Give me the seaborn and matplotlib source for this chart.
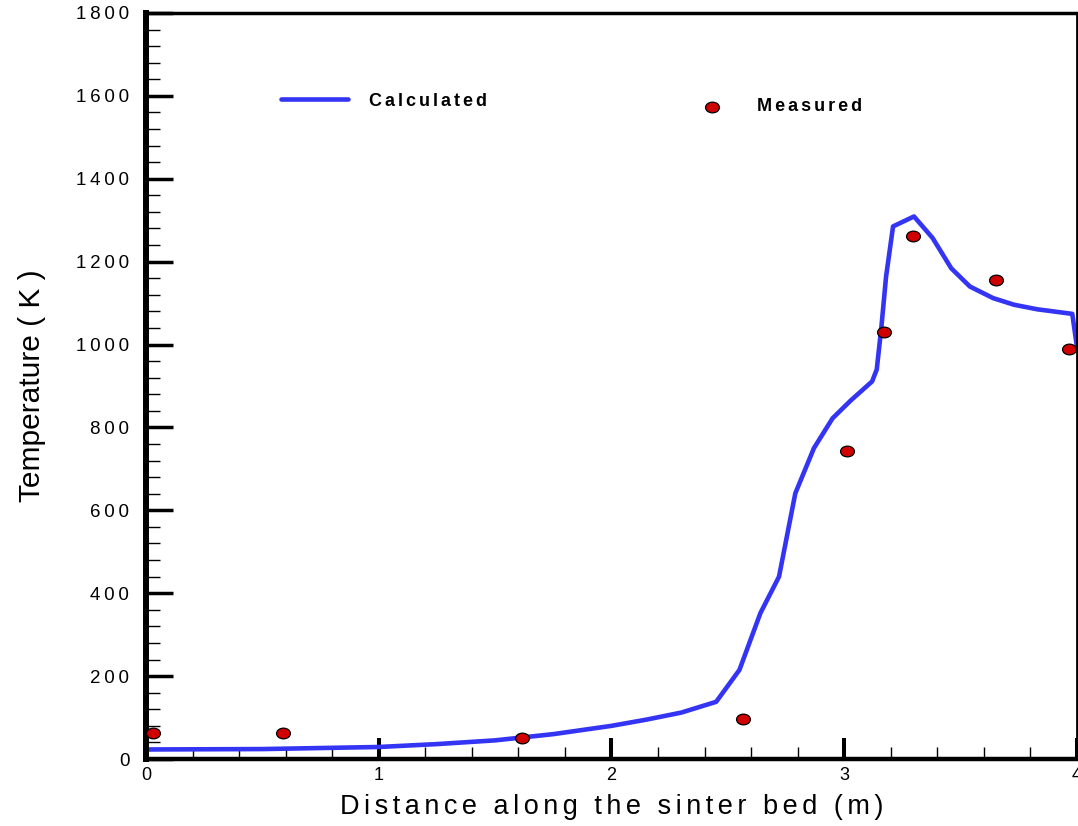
import numpy as np
import pandas as pd
import matplotlib
matplotlib.use("Agg")
import matplotlib.pyplot as plt
from matplotlib.path import Path
from matplotlib.transforms import Affine2D
from matplotlib.ticker import MultipleLocator, FixedLocator
import seaborn as sns

# Calculated temperature profile along the bed
calc_x = [0.0, 0.5, 1.0, 1.25, 1.5, 1.75, 2.0, 2.15, 2.3, 2.45, 2.55, 2.64,
          2.72, 2.79, 2.87, 2.95, 3.03, 3.12, 3.14, 3.16, 3.18, 3.21, 3.30,
          3.38, 3.46, 3.54, 3.64, 3.73, 3.83, 3.98, 4.0]
calc_t = [23, 24, 29, 36, 45, 60, 80, 95, 112, 138, 215, 352,
          440, 641, 750, 822, 866, 911, 940, 1043, 1164, 1285, 1309,
          1257, 1184, 1140, 1112, 1096, 1085, 1074, 995]

# Measured temperatures
meas_x = [0.03, 0.59, 1.615, 2.564, 3.011, 3.17, 3.295, 3.653, 3.968]
meas_t = [62, 62, 50, 96, 742, 1031, 1263, 1156, 989]

x_ticks = [0, 1, 2, 3, 4]
y_ticks = [0, 200, 400, 600, 800, 1000, 1200, 1400, 1600, 1800]

THIN = "\u2009"
HAIR2 = "\u200a\u200a"


def spaced(text, sep):
    return sep.join(text)


sns.set_style("ticks")
plt.rcParams["font.family"] = ["Liberation Sans", "DejaVu Sans"]
plt.rcParams["xtick.color"] = "black"
plt.rcParams["ytick.color"] = "black"
plt.rcParams["xtick.labelcolor"] = "black"
plt.rcParams["ytick.labelcolor"] = "black"
plt.rcParams["axes.labelcolor"] = "black"
plt.rcParams["text.color"] = "black"

fig = plt.figure(figsize=(10.78, 8.26), dpi=100)
ax = fig.add_axes([0.1354, 0.0811, 0.8636, 0.9032])

calc = pd.DataFrame({"x": calc_x, "t": calc_t})
meas = pd.DataFrame({"x": meas_x, "t": meas_t})

sns.lineplot(data=calc, x="x", y="t", ax=ax, color="#3434f4", linewidth=3.3,
             estimator=None, sort=False, label="_calc")

ellipse = Path.unit_circle().transformed(Affine2D().scale(1.3, 1.0))
sns.scatterplot(data=meas, x="x", y="t", ax=ax, marker=ellipse, s=100,
                color="#d00000", edgecolor="black", linewidth=0.9,
                zorder=3, label="_meas")

ax.set_xlim(0, 4)
ax.set_ylim(0, 1800)

ax.xaxis.set_major_locator(FixedLocator(x_ticks))
ax.yaxis.set_major_locator(FixedLocator(y_ticks))
ax.xaxis.set_minor_locator(MultipleLocator(0.2))
ax.yaxis.set_minor_locator(MultipleLocator(40))
ax.set_xticklabels([spaced(str(v), THIN) for v in x_ticks], fontsize=13)
ax.set_yticklabels([spaced(str(v), THIN) for v in y_ticks], fontsize=13.5)

ax.tick_params(axis="y", which="major", direction="in", length=19.5, width=2.5,
               pad=12, right=False)
ax.tick_params(axis="y", which="minor", direction="in", length=10, width=1.0,
               right=False)
ax.tick_params(axis="x", which="major", direction="in", length=15, width=2.9,
               pad=6, top=False)
ax.tick_params(axis="x", which="minor", direction="in", length=8.6, width=1.0,
               top=False)

for side, lw in {"left": 4.3, "bottom": 3.2, "top": 2.5, "right": 2.0}.items():
    ax.spines[side].set_visible(True)
    ax.spines[side].set_linewidth(lw)
    ax.spines[side].set_color("black")

ax.set_xlabel(spaced("Distance along the sinter bed (m)", HAIR2), fontsize=19.5,
              labelpad=7)
ax.set_ylabel("Temperature ( K )", fontsize=21.5, labelpad=22)

line_handle = ax.lines[0]
dot_handle = ax.collections[0]
leg_font = {"weight": "bold", "size": 13}

leg1 = ax.legend([line_handle], [spaced("Calculated", HAIR2)], loc="center left",
                 bbox_to_anchor=(0.145, 0.882), frameon=False, borderpad=0,
                 borderaxespad=0, handlelength=3.7, handletextpad=1.2,
                 prop=leg_font)
ax.add_artist(leg1)
ax.legend([dot_handle], [spaced("Measured", HAIR2)], loc="center left",
          bbox_to_anchor=(0.598, 0.874), frameon=False, borderpad=0,
          borderaxespad=0, handlelength=1.0, handletextpad=2.0,
          scatterpoints=1, prop=leg_font)

fig.savefig("out.png", dpi=100)
